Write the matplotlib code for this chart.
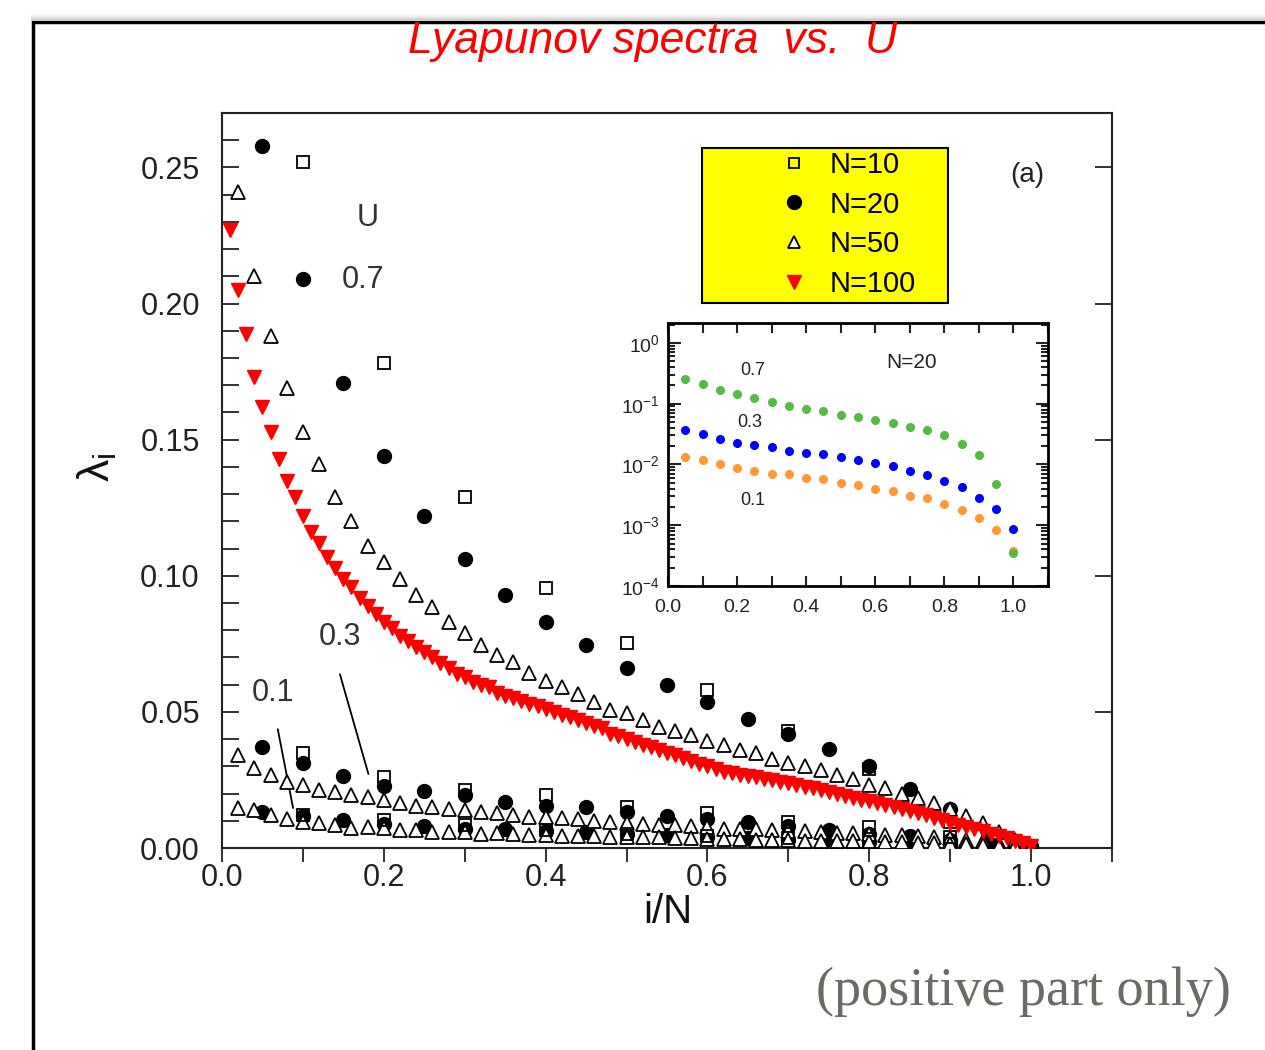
import numpy as np
import matplotlib
matplotlib.use('Agg')
import matplotlib.pyplot as plt
import matplotlib.ticker as ticker
from matplotlib.patches import Rectangle
from matplotlib.lines import Line2D

plt.rcParams['font.family'] = ['Liberation Sans', 'DejaVu Sans']
plt.rcParams['mathtext.fontset'] = 'custom'
plt.rcParams['mathtext.rm'] = 'Liberation Sans'
plt.rcParams['mathtext.it'] = 'Liberation Sans:italic'

# i/N positions for each system size
x10 = np.arange(1, 11) / 10
x20 = np.arange(1, 21) / 20
x50 = np.arange(1, 51) / 50
x100 = np.arange(1, 101) / 100

# U = 0.7
n10_u07 = [0.252, 0.178, 0.129, 0.0956, 0.0754, 0.058, 0.043, 0.029, 0.0095, 0.0004]
n20_u07 = [0.258, 0.209, 0.171, 0.144, 0.122, 0.106, 0.093, 0.083, 0.0746, 0.066,
           0.060, 0.0537, 0.0474, 0.042, 0.0364, 0.030, 0.0217, 0.0143, 0.0047, 0.00035]
n50_u07 = [0.241, 0.210, 0.188, 0.169, 0.153, 0.141, 0.129, 0.120, 0.111, 0.105,
           0.099, 0.093, 0.0887, 0.083, 0.079, 0.0746, 0.071, 0.0683, 0.0642, 0.0614,
           0.0593, 0.0565, 0.0538, 0.0507, 0.0495, 0.047, 0.0446, 0.0428, 0.0415, 0.0393,
           0.0379, 0.036, 0.0348, 0.0327, 0.0311, 0.0301, 0.0287, 0.0268, 0.0252, 0.0232,
           0.0219, 0.0199, 0.0183, 0.0167, 0.0145, 0.0118, 0.0091, 0.006, 0.003, 0.0008]
n100_u07 = [0.227, 0.205, 0.189, 0.173, 0.162, 0.153, 0.143, 0.135, 0.129, 0.122,
            0.116, 0.112, 0.107, 0.103, 0.099, 0.096, 0.092, 0.089, 0.086, 0.083,
            0.081, 0.078, 0.076, 0.074, 0.072, 0.070, 0.068, 0.066, 0.064, 0.063,
            0.061, 0.060, 0.059, 0.057, 0.056, 0.055, 0.054, 0.053, 0.052, 0.051,
            0.050, 0.049, 0.048, 0.047, 0.046, 0.045, 0.044, 0.042, 0.041, 0.040,
            0.039, 0.038, 0.037, 0.036, 0.035, 0.034, 0.033, 0.032, 0.031, 0.030,
            0.029, 0.028, 0.0275, 0.027, 0.0265, 0.026, 0.0255, 0.025, 0.0243, 0.0238,
            0.023, 0.0225, 0.022, 0.0213, 0.0206, 0.0199, 0.0192, 0.0185, 0.0178, 0.0172,
            0.0165, 0.0158, 0.0151, 0.0143, 0.0136, 0.0128, 0.012, 0.0111, 0.0102, 0.0093,
            0.0085, 0.0077, 0.0069, 0.0061, 0.0053, 0.0045, 0.0036, 0.0027, 0.0018, 0.0008]

# U = 0.3
n10_u03 = [0.0348, 0.0262, 0.0213, 0.0195, 0.0152, 0.013, 0.0097, 0.0078, 0.0042, 0.0005]
n20_u03 = [0.037, 0.0314, 0.0263, 0.0229, 0.0209, 0.0196, 0.0169, 0.0153, 0.0149, 0.0131,
           0.0119, 0.0105, 0.00945, 0.00791, 0.00664, 0.00529, 0.00431, 0.00278, 0.00185, 0.000877]
n50_u03 = [0.0342, 0.0293, 0.0268, 0.0244, 0.0232, 0.0213, 0.0207, 0.0195, 0.0189, 0.0176,
           0.0167, 0.0155, 0.0152, 0.0142, 0.0140, 0.0131, 0.0128, 0.0121, 0.0115, 0.0113,
           0.0109, 0.0105, 0.0101, 0.0095, 0.0091, 0.0090, 0.0086, 0.0083, 0.0079, 0.0077,
           0.0071, 0.0070, 0.0068, 0.0066, 0.0064, 0.0061, 0.0059, 0.0056, 0.0054, 0.0052,
           0.0049, 0.0046, 0.0043, 0.0040, 0.0036, 0.0031, 0.0026, 0.0019, 0.0011, 0.0003]

# U = 0.1
n10_u01 = [0.0121, 0.0103, 0.0085, 0.0066, 0.0052, 0.0045, 0.0035, 0.0022, 0.0014, 0.0004]
n20_u01 = [0.0134, 0.0119, 0.0102, 0.00866, 0.0079, 0.0069, 0.0069, 0.00607, 0.00571, 0.00501,
           0.0046, 0.00395, 0.00366, 0.00306, 0.00284, 0.00224, 0.00178, 0.0013, 0.000835, 0.000381]
n50_u01 = [0.0146, 0.0140, 0.0121, 0.0105, 0.0097, 0.0091, 0.0085, 0.0074, 0.0078, 0.0072,
           0.0066, 0.0067, 0.0060, 0.0057, 0.0059, 0.0052, 0.0054, 0.0052, 0.0048, 0.0047,
           0.0045, 0.0044, 0.0044, 0.0040, 0.0040, 0.0039, 0.0039, 0.0037, 0.0037, 0.0034,
           0.0033, 0.0033, 0.0031, 0.0030, 0.0028, 0.0027, 0.0026, 0.0025, 0.0024, 0.0023,
           0.0022, 0.0021, 0.0019, 0.0018, 0.0016, 0.0014, 0.0012, 0.0009, 0.0006, 0.0002]

W, H = 1265, 1050
fig = plt.figure(figsize=(W / 100, H / 100), dpi=100)
fig.patch.set_facecolor('white')

# slide frame with a faint shadow on top
for ypx, g in [(15, 0.96), (17, 0.92), (19, 0.82)]:
    fig.add_artist(Line2D([32 / W, 1.0], [1 - ypx / H] * 2, color=str(g), lw=2))
fig.add_artist(Rectangle((33 / W, -0.1), 1.2, 1 - 22 / H + 0.1, transform=fig.transFigure,
                         fill=False, ec='black', lw=2.5))

ax = fig.add_axes([222 / W, (H - 848) / H, 890 / W, 735 / H])

circ = dict(ls='none', marker='o', ms=10, color='black', zorder=3)
tri = dict(ls='none', marker='^', ms=9.5, mfc='white', mec='black', mew=1.3, zorder=4)
sq = dict(ls='none', marker='s', ms=8, mfc='none', mec='black', mew=1.3, zorder=5)

for n20 in (n20_u07, n20_u03, n20_u01):
    ax.plot(x20, n20, **circ)
for n50 in (n50_u07, n50_u03, n50_u01):
    ax.plot(x50, n50, **tri)
for n10 in (n10_u07, n10_u03, n10_u01):
    ax.plot(x10, n10, **sq)
ax.plot(x100, n100_u07, ls='none', marker='v', ms=10.5, color='red', zorder=6)

ax.set_xlim(0, 1.1)
ax.set_ylim(0, 0.27)
ax.set_xticks(np.arange(0, 1.01, 0.2))
ax.set_xticklabels(['0.0', '0.2', '0.4', '0.6', '0.8', '1.0'])
ax.xaxis.set_minor_locator(ticker.MultipleLocator(0.1))
ax.set_yticks(np.arange(0, 0.26, 0.05))
ax.set_yticklabels(['0.00', '0.05', '0.10', '0.15', '0.20', '0.25'])
ax.yaxis.set_minor_locator(ticker.MultipleLocator(0.01))
ax.tick_params(axis='x', which='both', direction='out', length=10, width=1.3,
               top=False, labelsize=22, pad=1, colors='#222')
ax.tick_params(axis='y', which='both', direction='in', length=12, width=1.3,
               labelsize=22, pad=16, colors='#222')
ax.tick_params(axis='y', which='major', right=True)
ax.tick_params(axis='y', which='minor', right=False)
for s in ax.spines.values():
    s.set_linewidth(1.5)
    s.set_color('#222')

# annotations
ax.text(0.180, 0.2316, 'U', fontsize=22, color='#333', ha='center', va='center')
ax.text(0.174, 0.2088, '0.7', fontsize=22, color='#333', ha='center', va='center')
ax.text(0.146, 0.0776, '0.3', fontsize=22, color='#333', ha='center', va='center')
ax.text(0.063, 0.0570, '0.1', fontsize=22, color='#333', ha='center', va='center')
ax.annotate('', xy=(0.1819, 0.0262), xytext=(0.1448, 0.0648),
            arrowprops=dict(arrowstyle='-', color='black', lw=1.3))
ax.annotate('', xy=(0.0885, 0.0137), xytext=(0.0683, 0.0446),
            arrowprops=dict(arrowstyle='-', color='black', lw=1.3))
ax.text(0.995, 0.2474, '(a)', fontsize=20, color='#222', ha='center', va='center')

# legend on yellow box
ax.add_patch(Rectangle(((702 - 222) / 890, (848 - 303) / 735), 246 / 890, 155 / 735,
                       transform=ax.transAxes, fc='#ffff00', ec='black', lw=1.5, zorder=10))
handles = [
    Line2D([], [], ls='none', marker='s', ms=7, mfc='none', mec='black', mew=1.3),
    Line2D([], [], ls='none', marker='o', ms=10, color='black'),
    Line2D([], [], ls='none', marker='^', ms=8, mfc='white', mec='black', mew=1.3),
    Line2D([], [], ls='none', marker='v', ms=10, color='red'),
]
leg = ax.legend(handles, ['N=10', 'N=20', 'N=50', 'N=100'], loc='center left',
                bbox_to_anchor=((779 - 222) / 890, (848 - 224.5) / 735),
                frameon=False, fontsize=21, borderaxespad=0, borderpad=0,
                handlelength=1.0, handletextpad=0.75, labelspacing=0.40, numpoints=1)
leg.set_zorder(11)

# inset
axin = fig.add_axes([668 / W, (H - 586) / H, 380 / W, 263 / H])
axin.set_zorder(12)
axin.plot(x20, n20_u01, ls='none', marker='o', ms=5.5, color='#ff9933')
axin.plot(x20, n20_u03, ls='none', marker='o', ms=5.5, color='#0000ff')
axin.plot(x20, n20_u07, ls='none', marker='o', ms=5.5, color='#55bb44')
axin.set_yscale('log')
axin.set_xlim(0, 1.1)
axin.set_ylim(1e-4, 2.13)
axin.set_xticks(np.arange(0, 1.01, 0.2))
axin.set_xticklabels(['0.0', '0.2', '0.4', '0.6', '0.8', '1.0'])
axin.xaxis.set_minor_locator(ticker.MultipleLocator(0.1))
axin.yaxis.set_major_locator(ticker.LogLocator(base=10, numticks=10))
axin.yaxis.set_minor_locator(ticker.LogLocator(base=10, subs=np.arange(2, 10), numticks=10))
axin.yaxis.set_minor_formatter(ticker.NullFormatter())
axin.tick_params(which='both', direction='in', top=True, right=True, width=1.5,
                 labelsize=14, colors='#222')
axin.tick_params(axis='x', which='both', length=7, pad=9)
axin.tick_params(axis='y', which='major', length=9, pad=6)
axin.tick_params(axis='y', which='minor', length=5)
for s in axin.spines.values():
    s.set_linewidth(2)
axin.text(0.246, 0.346, '0.7', fontsize=13, color='#222', ha='center', va='center')
axin.text(0.237, 0.050, '0.3', fontsize=13, color='#222', ha='center', va='center')
axin.text(0.246, 0.0026, '0.1', fontsize=13, color='#222', ha='center', va='center')
axin.text(0.705, 0.469, 'N=20', fontsize=15, color='#222', ha='center', va='center')

# titles and labels
fig.text(653 / W, 1 - 53 / H, 'Lyapunov spectra  vs.  U', color='red', style='italic',
         fontsize=32, ha='center', va='baseline')
fig.text(668 / W, 1 - 912 / H, 'i/N', fontsize=29, color='#111', ha='center', va='center')
fig.text(97 / W, 1 - 467 / H, r'$\mathrm{\lambda}_\mathrm{i}$', fontsize=32, color='#111',
         rotation=90, ha='center', va='center')
fig.text(1023 / W, 1 - 992 / H, '(positive part only)', family='Liberation Serif',
         fontsize=39, color='#6b6b63', ha='center', va='center')

fig.savefig('out.png', dpi=100)
